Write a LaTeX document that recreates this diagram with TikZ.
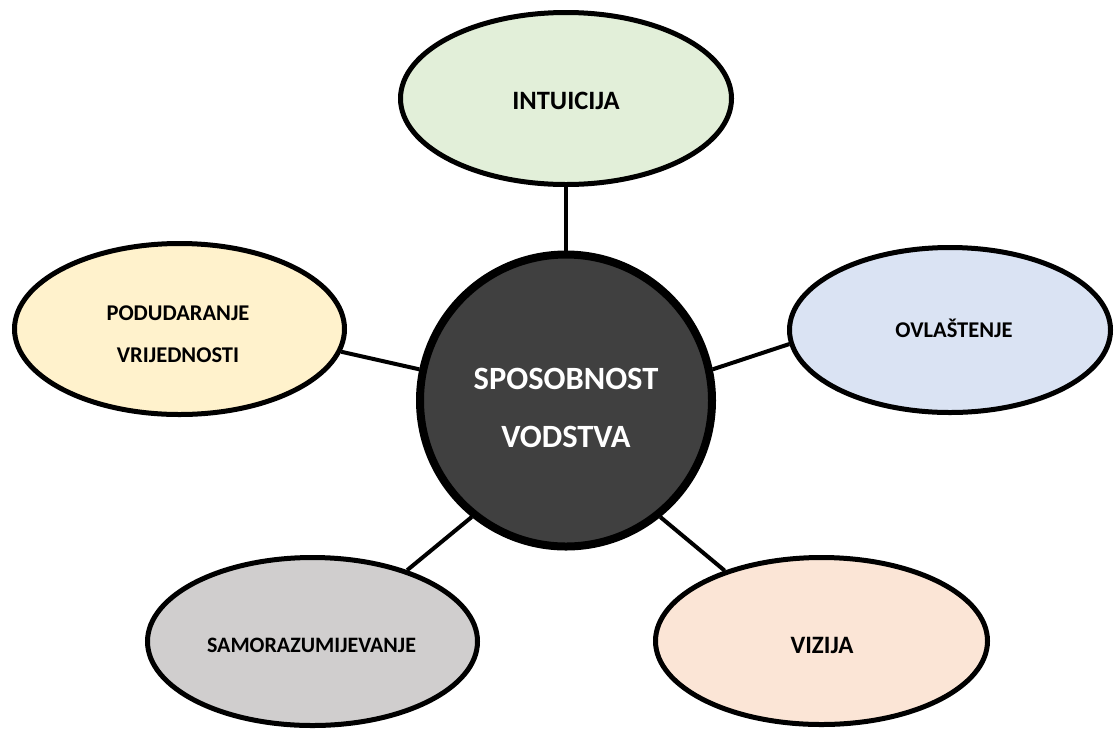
\documentclass[tikz,border=0pt]{standalone}
\usepackage{fontspec}
\setmainfont{Carlito}
\usetikzlibrary{shapes.geometric}
\definecolor{cgreen}{HTML}{E2EFD9}
\definecolor{cyellow}{HTML}{FFF2CC}
\definecolor{cblue}{HTML}{DAE3F3}
\definecolor{cgray}{HTML}{D0CECE}
\definecolor{cpeach}{HTML}{FBE5D6}
\definecolor{cdark}{HTML}{404040}
\tikzset{
  bubble/.style={ellipse, draw=black, line width=5pt, inner sep=0pt},
  hub/.style={circle, draw=black, fill=cdark, line width=8pt, inner sep=0pt, minimum size=292pt},
  link/.style={draw=black, line width=4pt},
  lbl/.style={inner sep=0pt, font=\bfseries, align=center, anchor=base},
}
\begin{document}
\begin{tikzpicture}[x=1pt,y=-1pt]
\useasboundingbox (0,0) rectangle (1115,729);
\node[bubble, fill=cgreen, minimum width=331pt, minimum height=172pt] (t) at (566,98.5) {};
\node[bubble, fill=cyellow, minimum width=330pt, minimum height=171pt] (l) at (179.5,329) {};
\node[bubble, fill=cblue, minimum width=321pt, minimum height=165pt] (r) at (950,330) {};
\node[bubble, fill=cgray, minimum width=330pt, minimum height=168pt] (bl) at (312.5,641.5) {};
\node[bubble, fill=cpeach, minimum width=332pt, minimum height=167pt] (br) at (821.5,641) {};
\node[hub] (c) at (566,400.5) {};
\draw[link] (t.south) -- (c.north);
\draw[link] (l.-8.7) -- (c.168.6);
\draw[link] (c.12.5) -- (r.185.7);
\draw[link] (c.231) -- (bl.37);
\draw[link] (c.309.6) -- (br.144.4);
\node[lbl, font=\bfseries\fontsize{26.5}{30}\selectfont] (tt) at (566,109) {INTUICIJA};
\node[lbl, font=\bfseries\fontsize{22.5}{42}\selectfont] (lt) at (178,362) {PODUDARANJE\\VRIJEDNOSTI};
\node[lbl, font=\bfseries\fontsize{22.5}{26}\selectfont] (rt) at (954,337) {OVLAŠTENJE};
\node[lbl, font=\bfseries\fontsize{22}{26}\selectfont] (blt) at (311.5,652) {SAMORAZUMIJEVANJE};
\node[lbl, font=\bfseries\fontsize{25}{30}\selectfont] (brt) at (822,653) {VIZIJA};
\node[lbl, text=white, font=\bfseries\fontsize{32.5}{58}\selectfont] (ct) at (566,447) {SPOSOBNOST\\VODSTVA};
\end{tikzpicture}
\end{document}
